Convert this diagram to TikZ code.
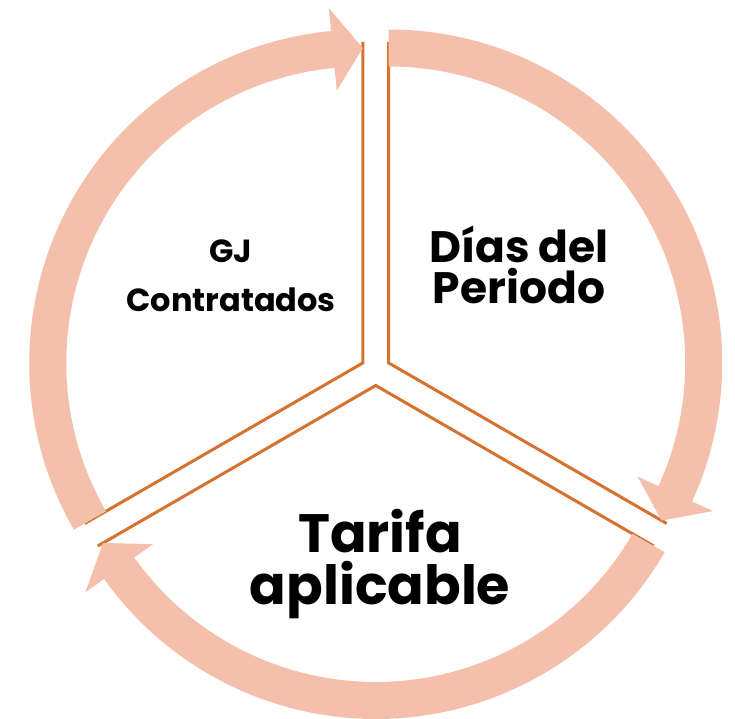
\documentclass[tikz,border=0pt]{standalone}
\usepackage{fontspec}
\setmainfont{Poppins}
\usetikzlibrary{calc}
\definecolor{edgeorange}{HTML}{D7712E}
\definecolor{bandsalmon}{HTML}{F4BFAB}
\tikzset{
  sectorfill/.style={fill=white, draw=none},
  sectoredge/.style={draw=edgeorange, line width=3pt},
  bandarrow/.style={fill=bandsalmon, draw=none},
  lbl/.style={anchor=base, inner sep=0pt, font=\bfseries},
}
% #1 centre, #2 start angle, #3 end angle (clockwise, #2 > #3)
\newcommand\cyclearrow[3]{%
  \fill[bandarrow] ($(#1)+(#2:333.5)$)
    arc[start angle=#2, end angle=#3+5.46, radius=333.5]
    -- ($(#1)+(#3+5.46:356.5)$)
    -- ($(#1)+(#3:315)$)
    -- ($(#1)+(#3+5.46:273.5)$)
    -- ($(#1)+(#3+5.46:296.5)$)
    arc[start angle=#3+5.46, end angle=#2, radius=296.5]
    -- cycle;}
\begin{document}
\begin{tikzpicture}[x=1pt,y=1pt]
\useasboundingbox (0,0) rectangle (735,718);
\coordinate (O) at (375.75,347.5);
\coordinate (PL) at ($(O)+(150:15)$);
\coordinate (PR) at ($(O)+(30:15)$);
\coordinate (PB) at ($(O)+(270:15)$);
% sectors
\coordinate (L1) at ($(PL)+(90:321)$);
\coordinate (L2) at ($(PL)+(210:321)$);
\coordinate (R1) at ($(PR)+(90:321)$);
\coordinate (R2) at ($(PR)+(-30:321)$);
\coordinate (B1) at ($(PB)+(210:321)$);
\coordinate (B2) at ($(PB)+(330:321)$);
\draw[sectoredge] (L1) -- (PL) -- (L2);
\draw[sectoredge] (R1) -- (PR) -- (R2);
\draw[sectoredge] (B1) -- (PB) -- (B2);
% circular arrows
\cyclearrow{PL}{210}{90}
\cyclearrow{PR}{90}{-30}
\cyclearrow{PB}{330}{210}
% labels
\node[lbl, font=\bfseries\fontsize{32}{40}\selectfont] (gj) at (231,455) {GJ};
\node[lbl, font=\bfseries\fontsize{32}{40}\selectfont] (contr) at (231,406) {Contratados};
\node[lbl, font=\bfseries\fontsize{44}{50}\selectfont] (dias) at (519,455) {Días del};
\node[lbl, font=\bfseries\fontsize{44}{50}\selectfont] (per) at (519,414) {Periodo};
\node[lbl, font=\bfseries\fontsize{54}{60}\selectfont] (tar) at (380,166) {Tarifa};
\node[lbl, font=\bfseries\fontsize{54}{60}\selectfont] (apl) at (380,114) {aplicable};
\end{tikzpicture}
\end{document}
